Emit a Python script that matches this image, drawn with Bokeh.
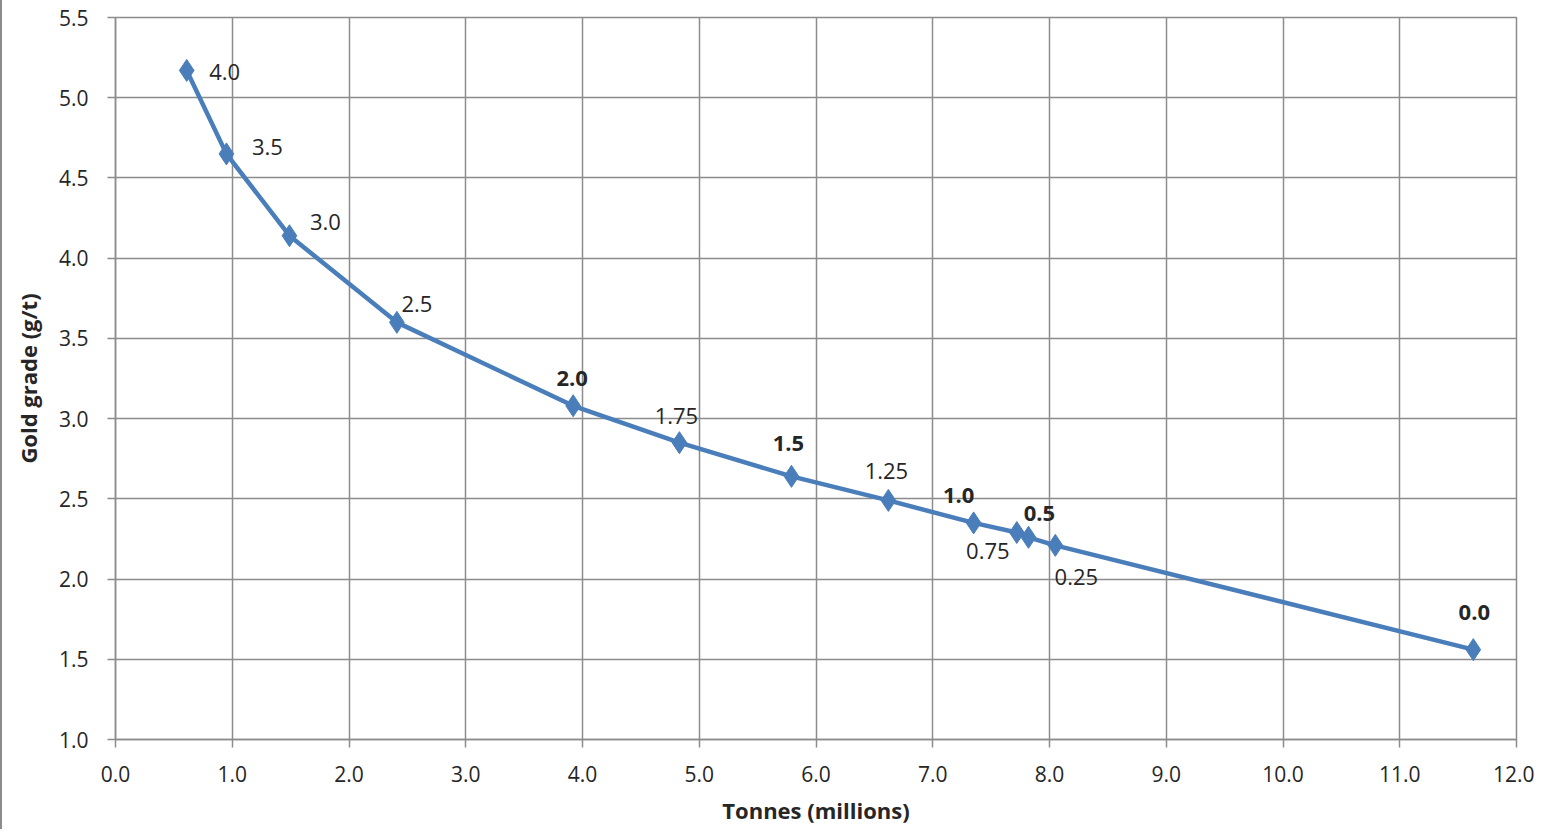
from bokeh.plotting import figure
from bokeh.models import ColumnDataSource, NumeralTickFormatter, FixedTicker, Range1d
from bokeh.core.properties import value
from bokeh.embed import file_html
from bokeh.resources import INLINE

# data
tonnes = [0.61, 0.95, 1.49, 2.41, 3.92, 4.83, 5.79, 6.62, 7.35, 7.72, 7.82, 8.05, 11.63]
grade = [5.17, 4.65, 4.14, 3.60, 3.08, 2.85, 2.64, 2.49, 2.35, 2.29, 2.26, 2.21, 1.56]
cutoff_labels = ["4.0", "3.5", "3.0", "2.5", "2.0", "1.75", "1.5", "1.25", "1.0", "0.75", "0.5", "0.25", "0.0"]
label_bold = [False, False, False, False, True, False, True, False, True, False, True, False, True]
x_ticks = [0, 1, 2, 3, 4, 5, 6, 7, 8, 9, 10, 11, 12]
y_ticks = [1.0, 1.5, 2.0, 2.5, 3.0, 3.5, 4.0, 4.5, 5.0, 5.5]

# label placement (styling, screen pixels; negative dy = up)
lab_dx = [38, 41, 36, 20, -1, -3, -3, -2, -15, -29, 11, 21, 1]
lab_dy = [2, -7, -14, -18, -27, -27, -33, -29, -27, 18, -24, 32, -37]

FONT = "Open Sans"
GRID = "#8c8c8c"
BLUE = "#4a7ebb"
TXT = "#262626"

p = figure(width=1534, height=829, output_backend="svg", toolbar_location=None,
           x_range=Range1d(0, 12), y_range=Range1d(1.0, 5.5),
           min_border_left=113, min_border_right=20, min_border_top=17, min_border_bottom=90)
p.background_fill_color = "white"
p.border_fill_color = "white"
p.outline_line_color = GRID
p.outline_line_width = 1.5

for ax in (p.xaxis[0], p.yaxis[0]):
    ax.formatter = NumeralTickFormatter(format="0.0")
    ax.axis_line_color = GRID
    ax.axis_line_width = 1.5
    ax.major_tick_line_color = GRID
    ax.major_tick_line_width = 1.5
    ax.major_tick_out = 8
    ax.major_tick_in = 0
    ax.minor_tick_line_color = None
    ax.major_label_text_font = FONT
    ax.major_label_text_font_size = "21px"
    ax.major_label_text_color = TXT
    ax.axis_label_text_font = FONT
    ax.axis_label_text_font_size = "22px"
    ax.axis_label_text_font_style = "bold"
    ax.axis_label_text_color = TXT

p.xaxis[0].ticker = FixedTicker(ticks=x_ticks)
p.yaxis[0].ticker = FixedTicker(ticks=y_ticks)
p.xaxis[0].axis_label = "Tonnes (millions)"
p.yaxis[0].axis_label = "Gold grade (g/t)"
p.xaxis[0].major_label_standoff = 18
p.yaxis[0].major_label_standoff = 19
p.xaxis[0].axis_label_standoff = 10
p.yaxis[0].axis_label_standoff = 13

p.xgrid.ticker = FixedTicker(ticks=x_ticks)
p.ygrid.ticker = FixedTicker(ticks=y_ticks)
p.xgrid.grid_line_color = GRID
p.ygrid.grid_line_color = GRID
p.xgrid.grid_line_width = 1.5
p.ygrid.grid_line_width = 1.5

src = ColumnDataSource(dict(
    x=tonnes, y=grade, lab=cutoff_labels,
    style=["bold" if b else "normal" for b in label_bold],
    dx=lab_dx, dy=lab_dy,
))

p.line("x", "y", source=src, line_color=BLUE, line_width=4.5)
p.scatter("x", "y", source=src, marker="diamond", size=22,
          fill_color=BLUE, line_color=BLUE)
p.text("x", "y", text="lab", source=src, x_offset="dx", y_offset="dy",
       text_font=value(FONT), text_font_size="22px", text_font_style="style",
       text_color=TXT, text_align="center", text_baseline="middle")

p.styles = {"border-left": "2px solid #8c8c8c"}

open("out.html", "w").write(file_html(p, INLINE))
